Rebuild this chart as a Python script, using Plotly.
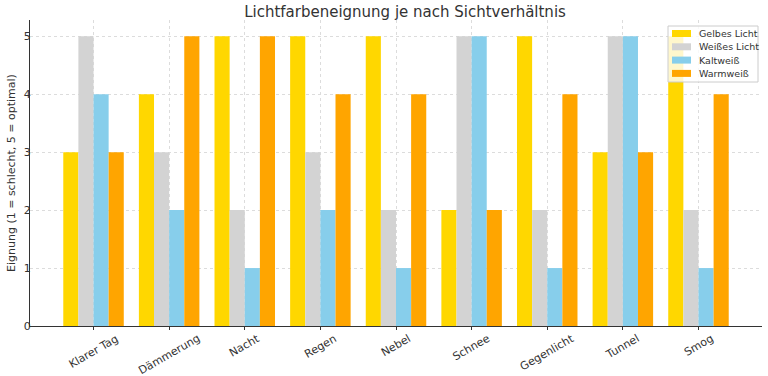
import plotly.graph_objects as go

categories = ["Klarer Tag", "Dämmerung", "Nacht", "Regen", "Nebel", "Schnee", "Gegenlicht", "Tunnel", "Smog"]
gelbes = [3, 4, 5, 5, 5, 2, 5, 3, 5]
weisses = [5, 3, 2, 3, 2, 5, 2, 5, 2]
kaltweiss = [4, 2, 1, 2, 1, 5, 1, 5, 1]
warmweiss = [3, 5, 5, 4, 4, 2, 4, 3, 4]
series_names = ["Gelbes Licht", "Weißes Licht", "Kaltweiß", "Warmweiß"]
colors = ["#FFD700", "#D3D3D3", "#87CEEB", "#FFA500"]
yticks = [0, 1, 2, 3, 4, 5]
y_title = "Eignung (1 = schlecht, 5 = optimal)"

W, H = 768, 376
L, R, T, B = 30, 6, 20, 50
PW, PH = W - L - R, H - T - B

def px(xp):
    return (xp - L) / PW

def py(yp):
    return (H - B - yp) / PH

fig = go.Figure()
for name, vals, c in zip(series_names, [gelbes, weisses, kaltweiss, warmweiss], colors):
    fig.add_trace(go.Bar(x=categories, y=vals, name=name, marker=dict(color=c, line=dict(width=0))))

font = "DejaVu Sans, sans-serif"
fig.update_layout(
    width=W, height=H,
    margin=dict(l=L, r=R, t=T, b=B, autoexpand=False),
    paper_bgcolor="white", plot_bgcolor="white",
    barmode="group", bargap=0.2, bargroupgap=0,
    font=dict(family=font, size=11, color="#333333"),
    title=dict(text="Lichtfarbeneignung je nach Sichtverhältnis", x=405 / W, xanchor="center",
               xref="container", yref="container",
               y=1 - 12 / H, yanchor="middle", font=dict(size=15, color="#333333")),
    showlegend=False,
)
fig.update_xaxes(type="category", range=[-0.84, 8.84], showticklabels=False,
                 showgrid=True, gridcolor="#dcdcdc", griddash="dot", gridwidth=1,
                 showline=True, linecolor="#333333", linewidth=1,
                 ticks="outside", ticklen=3, tickcolor="#333333", automargin=False)
fig.update_yaxes(range=[0, 5.28], tickvals=yticks,
                 showgrid=True, gridcolor="#dcdcdc", griddash="dot", gridwidth=1,
                 showline=True, linecolor="#333333", linewidth=1,
                 ticks="", ticklabelstandoff=-4,
                 zeroline=False, automargin=False, tickfont=dict(size=11))

# y-axis title
fig.add_annotation(x=px(11), xref="paper", y=0.5, yref="paper", text=y_title, showarrow=False,
                   textangle=-90, xanchor="center", yanchor="middle", font=dict(size=11, color="#333333"))

# rotated category labels, centred under ticks
for cat in categories:
    fig.add_annotation(x=cat, xref="x", y=0, yref="paper", text=cat, showarrow=False,
                       textangle=-30, xanchor="center", yanchor="top", yshift=-3,
                       font=dict(size=11, color="#333333"))

# compact legend box
lx0, lx1, ly0, ly1 = 668, 758, 26, 82
fig.add_shape(type="rect", xref="paper", yref="paper", x0=px(lx0), x1=px(lx1), y0=py(ly1), y1=py(ly0),
              fillcolor="rgba(255,255,255,0.8)", line=dict(color="#cccccc", width=1), layer="above")
for i, (name, c) in enumerate(zip(series_names, colors)):
    yc = 33.5 + i * 13.3
    fig.add_shape(type="rect", xref="paper", yref="paper", x0=px(672), x1=px(691),
                  y0=py(yc + 3.5), y1=py(yc - 3.5), fillcolor=c, line=dict(width=0), layer="above")
    fig.add_annotation(x=px(697), xref="paper", y=py(yc), yref="paper", text=name, showarrow=False,
                       xanchor="left", yanchor="middle", font=dict(size=9.5, color="#333333"))

fig.write_html("out.html", config={"displayModeBar": False},
               post_script="document.body.style.margin='0';document.body.style.overflow='hidden';")
